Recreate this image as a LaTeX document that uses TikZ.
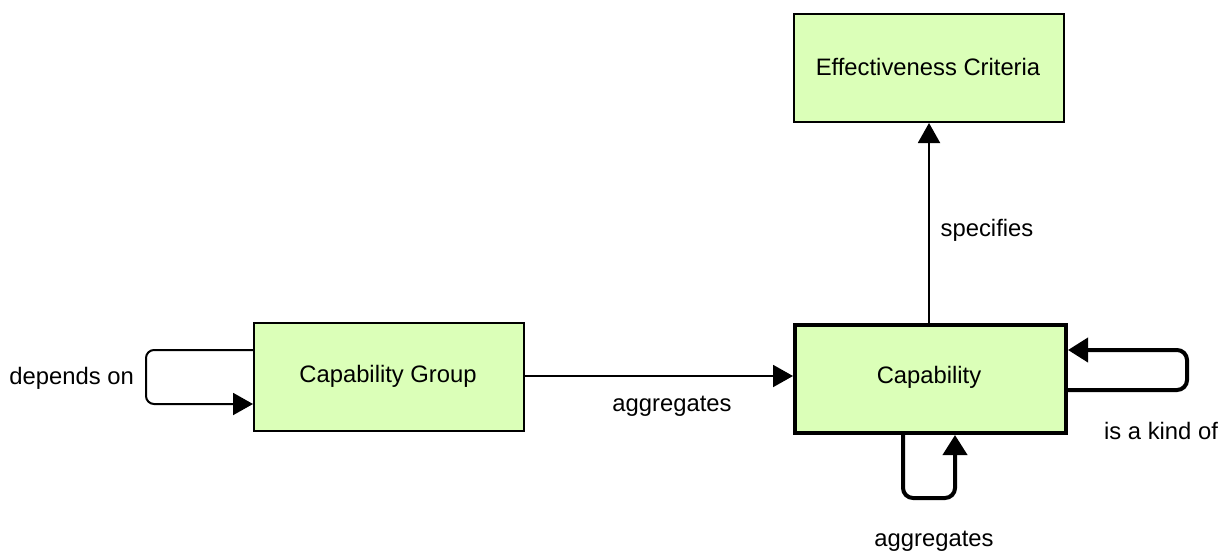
\documentclass[tikz,border=0pt]{standalone}
\usepackage{fontspec}
\setmainfont{Liberation Sans}
\usetikzlibrary{arrows.meta}
\definecolor{boxfill}{RGB}{219,255,184}
\begin{document}
\begin{tikzpicture}[x=1pt,y=-1pt,
  every node/.style={font=\fontsize{23.8}{28}\selectfont},
  entity/.style={draw=black,fill=boxfill,line width=2pt,minimum width=270pt,minimum height=108pt,inner sep=0pt,anchor=north west},
  thinlink/.style={line width=2pt,-{Triangle[length=20pt,width=22pt]},rounded corners=8pt},
  thicklink/.style={line width=4pt,-{Triangle[length=20pt,width=24pt]},rounded corners=10pt},
  lbl/.style={inner sep=0pt}]
\useasboundingbox (0,0) rectangle (1228,552);

\node[entity] (ec) at (793,13) {};
\node at (928,67) (ectext) {Effectiveness Criteria};
\node[entity] (cg) at (253,322) {};
\node at (388,376) (cgtext) {Capability Group};
\node[entity,line width=4pt,minimum width=271pt,minimum height=108pt] (cap) at (793,323) {};
\node at (929,377) (captext) {Capability};

% specifies
\draw[thinlink] (cap.north -| 929,0) -- (ec.south -| 929,0);
\node[lbl] (lspec) at (987,230) {specifies};

% aggregates between boxes
\draw[thinlink] (cg.east |- 0,376) -- (cap.west |- 0,376);
\node[lbl] (lagg) at (672,406) {aggregates};

% depends on self loop
\coordinate (d1) at (146,350);
\coordinate (d2) at (146,404);
\draw[thinlink] (cg.west |- d1) -- (d1) -- (d2) -- (cg.west |- d2);
\node[lbl,anchor=east] (ldep) at (134,378) {depends on};

% is a kind of self loop
\coordinate (k1) at (1187,390);
\coordinate (k2) at (1187,350);
\draw[thicklink] (cap.east |- k1) -- (k1) -- (k2) -- (cap.east |- k2);
\node[lbl] (lkind) at (1161,431) {is a kind of};

% aggregates self loop
\coordinate (a1) at (903,498);
\coordinate (a2) at (955,498);
\draw[thicklink] (cap.south -| a1) -- (a1) -- (a2) -- (cap.south -| a2);
\node[lbl] (lagg2) at (934,541) {aggregates};
\end{tikzpicture}
\end{document}
